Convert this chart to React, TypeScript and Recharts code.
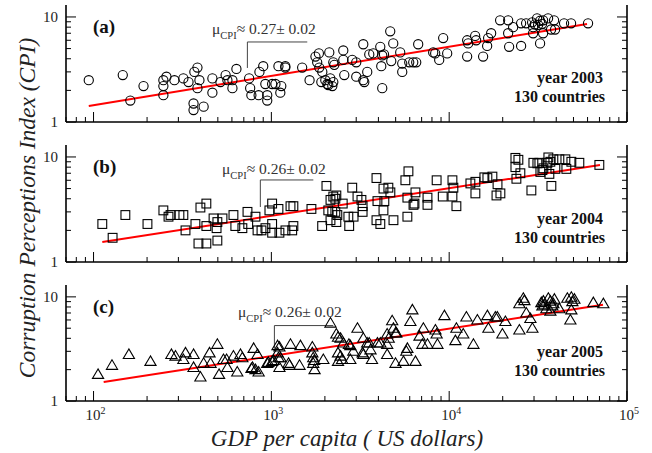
import { ScatterChart, Scatter, XAxis, YAxis, ReferenceLine } from "recharts";

const SERIF = "'Liberation Serif', 'Times New Roman', serif";

// axis ticks (log-log)
const xTicks = [
  70, 80, 90, 100, 200, 300, 400, 500, 600, 700, 800, 900, 1000, 2000, 3000, 4000, 5000, 6000,
  7000, 8000, 9000, 10000, 20000, 30000, 40000, 50000, 60000, 70000, 80000, 90000, 100000,
];
const xMajorTicks = [100, 1000, 10000, 100000];
const xMajorExponents = ["2", "3", "4", "5"];
const yTicks = [1, 2, 3, 4, 5, 6, 7, 8, 9, 10];
const yMajorTicks = [1, 10];
const yMajorLabels = ["1", "10"];

// (a) 2003
const gdp2003 = [
  94, 146, 161, 191, 247, 257, 247, 247, 285, 320, 342, 369, 384, 394, 384, 365, 365, 416, 466, 466,
  517, 553, 566, 604, 604, 636, 750, 760, 772, 848, 857, 900, 925, 948, 948, 1010, 1054, 1096, 1123,
  1137, 1198, 1198, 1490, 1640, 1770, 1810, 1850, 1860, 1910, 1934, 2011, 2064, 2090, 2145, 2202,
  2230, 2117, 2230, 2260, 2538, 2538, 2571, 2851, 3002, 3002, 3288, 3288, 3331, 3461, 3553, 3741,
  4097, 4203, 4300, 4150, 4203, 4661, 4723, 4847, 5305, 5445, 5445, 5962, 6279, 6526, 6695, 8131,
  8343, 8788, 9253, 9745, 12620, 12790, 12620, 14000, 14180, 15520, 16350, 16560, 17220, 19340,
  21460, 21460, 21730, 22890, 25380, 25380, 27080, 29270, 29650, 30420, 29650, 31210, 31620, 32450,
  33300, 33740, 32450, 33740, 35990, 37410, 39400, 38900, 44270, 48470, 60390,
];
const cpi2003 = [
  2.5, 2.8, 1.6, 2.2, 2.5, 2.7, 2.2, 1.8, 2.5, 2.6, 2.4, 3.0, 3.3, 2.5, 2.1, 1.5, 1.3, 1.4, 2.6, 1.9,
  2.4, 2.8, 2.5, 2.5, 2.1, 3.2, 2.6, 2.1, 1.8, 1.8, 3.0, 3.4, 2.3, 1.8, 1.6, 2.3, 2.3, 3.4, 1.9,
  2.2, 3.4, 3.3, 3.3, 2.5, 4.2, 3.7, 4.5, 3.3, 2.4, 3.0, 2.5, 2.3, 2.25, 2.6, 2.2,
  2.4, 4.6, 3.7, 3.5, 4.8, 3.9, 2.8, 3.9, 3.7, 2.7, 5.5, 2.5, 2.4, 3.0, 4.4, 4.5,
  5.2, 4.3, 4.4, 3.4, 2.1, 7.3, 3.8, 5.6, 4.6, 3.6, 3.0, 3.7, 3.7, 3.7, 5.5, 4.6,
  4.5, 3.9, 6.3, 4.5, 6.0, 5.6, 4.2, 6.6, 6.0, 4.2, 5.3, 6.3, 7.0, 9.3,
  9.3, 7.0, 5.2, 8.0, 8.7, 5.3, 8.7, 8.9, 8.0, 8.5, 7.0, 9.7, 8.4, 9.2,
  8.6, 9.3, 5.6, 7.0, 9.7, 7.6, 7.6, 9.3, 8.7, 8.7, 8.7,
];
const fit2003 = [
  { x: 94, y: 1.42 },
  { x: 59600, y: 8.58 },
];
const bracket2003 = [733, 1592, 3.27, 5.78];

// (b) 2004
const gdp2004 = [
  112, 128, 151, 201, 247, 264, 271, 304, 320, 329, 374, 399, 431, 389, 431, 431, 473, 492, 497, 497,
  531, 612, 627, 687, 734, 741, 814, 836, 880, 926, 975, 1010, 1010, 1010, 1110, 1096, 1200, 1310,
  1281, 1330, 1330, 1680, 1930, 2040, 2150, 2230, 2320, 2290, 2090, 2200, 2290, 2350, 2320, 2150,
  2520, 2710, 2900, 2740, 2850, 3050, 3260, 3260, 3210, 3900, 3950, 4270, 4550, 4670, 4320, 4270,
  3900, 4100, 4860, 5670, 5900, 5820, 5820, 6460, 6380, 6300, 7550, 7550, 8500, 9200, 10430, 10560,
  10430, 10980, 13160, 14040, 14040, 15770, 16400, 17500, 18700, 18450, 19410, 23570, 24500, 23570,
  25140, 23880, 28990, 29750, 31330, 32150, 32570, 33430, 33870, 35660, 36120, 37070, 36600, 37560,
  38530, 39550, 41650, 45020, 45600, 48650, 53960, 69900,
];
const cpi2004 = [
  2.3, 1.7, 2.8, 2.3, 3.1, 2.7, 2.8, 2.8, 2.8, 2.0, 2.3, 3.3, 3.6, 1.5, 1.5, 2.2, 2.6, 2.1, 1.6, 2.4,
  2.6, 2.8, 2.2, 2.1, 3.0, 2.3, 2.7, 2.0, 2.0, 2.1, 3.1, 3.6, 2.3, 1.9, 1.9, 3.2, 2.0, 2.0,
  3.4, 3.4, 2.2, 3.2, 2.2, 5.3, 3.9, 4.2, 4.3, 4.0, 3.1, 3.0, 3.0, 2.8, 2.4, 2.5,
  3.6, 2.7, 2.7, 2.2, 5.1, 4.2, 3.4, 3.0, 3.9, 6.3, 3.8, 5.0, 5.1, 4.6, 3.8, 3.1,
  2.5, 2.3, 2.5, 6.0, 7.3, 4.1, 2.7, 4.6, 3.6, 3.5, 4.1, 3.5, 6.0, 4.2, 6.0, 5.1,
  4.2, 3.4, 5.6, 5.8, 4.5, 6.4, 6.3, 6.5, 5.5, 4.3, 4.5, 9.8, 9.4, 8.0,
  7.0, 6.2, 4.8, 8.8, 8.7, 8.8, 7.2, 7.5, 7.8, 8.8, 9.9, 9.0, 6.9, 5.3,
  9.5, 7.7, 9.5, 9.5, 7.7, 9.0, 8.8, 8.4,
];
const fit2004 = [
  { x: 112, y: 1.55 },
  { x: 70500, y: 8.4 },
];
const bracket2004 = [867, 1722, 3.34, 6.04];

// (c) 2005
const gdp2005 = [
  106, 127, 158, 209, 274, 289, 329, 320, 365, 365, 399, 416, 449, 455, 497, 508, 538, 566, 560, 612,
  643, 670, 687, 773, 783, 795, 814, 836, 848, 948, 962, 1010, 1030, 1083, 1083, 1096, 1125, 1110,
  1110, 1250, 1281, 1265, 1457, 1440, 1700, 1700, 1720, 1720, 1740, 1750, 1960, 2150, 2320, 2370,
  2450, 2540, 2780, 2370, 2450, 2370, 2500, 2730, 3050, 2890, 2780, 3260, 3290, 3290, 3550, 3610,
  3680, 3460, 3950, 4100, 4480, 4570, 4480, 4780, 4860, 4990, 5050, 4480, 4990, 5530, 5740, 5820,
  6050, 6210, 6460, 6810, 7070, 7550, 8590, 7160, 8370, 8500, 9400, 10980, 10840, 12000, 12500,
  13690, 14410, 16400, 16620, 18190, 18660, 19930, 20710, 24820, 24820, 26130, 26480, 27160, 28620,
  29370, 32990, 33430, 33870, 34310, 35200, 36120, 37070, 38030, 38530, 39030, 37070, 41650, 46200,
  48650, 49290, 50590, 48650, 48030, 64690, 73600,
];
const cpi2005 = [
  1.8, 2.2, 2.8, 2.4, 2.8, 2.7, 2.9, 2.5, 2.8, 2.1, 1.7, 2.3, 2.9, 2.3, 3.5, 1.8, 2.5, 2.1, 2.5, 2.7,
  1.9, 2.8, 2.6, 2.05, 2.1, 3.2, 2.0, 2.8, 1.9, 2.3, 2.35, 2.4, 2.45, 2.9, 3.4, 2.6, 2.6, 2.1,
  3.3, 2.3, 3.5, 2.2, 3.4, 2.2, 3.3, 2.9, 2.6, 2.3, 2.45, 2.0, 2.5, 5.6, 4.4, 4.1,
  4.0, 3.6, 3.4, 2.9, 2.7, 2.4, 2.5, 3.5, 5.0, 3.0, 2.5, 2.9, 2.8, 4.0, 3.6, 3.1,
  2.5, 3.6, 3.6, 3.6, 4.4, 4.0, 3.5, 5.9, 5.0, 4.5, 4.5, 2.8, 2.3, 2.4, 3.0, 3.2,
  5.8, 7.5, 2.4, 4.2, 3.5, 3.5, 3.5, 5.0, 4.8, 4.4, 6.6, 5.0, 3.8, 4.4, 6.4,
  3.5, 6.0, 6.6, 5.0, 6.4, 6.4, 4.4, 5.8, 4.8, 8.6, 9.7, 9.2, 7.0, 6.2,
  5.0, 8.8, 8.2, 9.1, 8.4, 7.7, 9.7, 9.1, 8.2, 8.6, 9.5, 7.3, 7.7, 9.7,
  9.9, 9.0, 9.5, 7.5, 6.0, 8.8, 8.6,
];
const fit2005 = [
  { x: 114, y: 1.52 },
  { x: 73300, y: 8.4 },
];
const bracket2005 = [1040, 2229, 3.2, 5.3];

const toPoints = (xs: number[], ys: number[]) => xs.map((x, i) => ({ x, y: ys[i] }));

const Circle = (p: any) => (
  <circle cx={p.cx} cy={p.cy} r={4.6} fill="none" stroke="#000" strokeWidth={1.1} />
);
const Square = (p: any) => (
  <rect x={p.cx - 4.4} y={p.cy - 4.4} width={8.8} height={8.8} fill="none" stroke="#000" strokeWidth={1.1} />
);
const Triangle = (p: any) => (
  <polygon
    points={`${p.cx},${p.cy - 5.5} ${p.cx - 5.6},${p.cy + 4} ${p.cx + 5.6},${p.cy + 4}`}
    fill="none"
    stroke="#000"
    strokeWidth={1.1}
  />
);

const tickLen = (v: number, majors: number[]) => (majors.includes(v) ? 10 : 5);

const makeBottomTick = (showLabel: boolean) => (p: any) => {
  const v = p.payload.value;
  const mi = xMajorTicks.indexOf(v);
  return (
    <g>
      <line x1={p.x} x2={p.x} y1={p.y} y2={p.y - tickLen(v, xMajorTicks)} stroke="#000" strokeWidth={1} />
      {showLabel && mi >= 0 && (
        <text x={p.x + 2} y={p.y + 19} textAnchor="middle" fontFamily={SERIF} fontSize={15} fill="#222">
          10
          <tspan dy={-6} fontSize={10}>
            {xMajorExponents[mi]}
          </tspan>
        </text>
      )}
    </g>
  );
};

const TopTick = (p: any) => {
  const v = p.payload.value;
  return <line x1={p.x} x2={p.x} y1={p.y} y2={p.y + tickLen(v, xMajorTicks)} stroke="#000" strokeWidth={1} />;
};

const LeftTick = (p: any) => {
  const v = p.payload.value;
  const mi = yMajorTicks.indexOf(v);
  return (
    <g>
      <line x1={p.x} x2={p.x + tickLen(v, yMajorTicks)} y1={p.y} y2={p.y} stroke="#000" strokeWidth={1} />
      {mi >= 0 && (
        <text x={p.x - 8} y={p.y + 5} textAnchor="end" fontFamily={SERIF} fontSize={15} fill="#222">
          {yMajorLabels[mi]}
        </text>
      )}
    </g>
  );
};

const RightTick = (p: any) => {
  const v = p.payload.value;
  return <line x1={p.x} x2={p.x - tickLen(v, yMajorTicks)} y1={p.y} y2={p.y} stroke="#000" strokeWidth={1} />;
};

const axisLine = { stroke: "#000", strokeWidth: 1.6 };

type PanelProps = {
  top: number;
  height: number;
  xAxisHeight: number;
  data: { x: number; y: number }[];
  fit: { x: number; y: number }[];
  bracket: number[];
  shape: any;
  showXLabels: boolean;
};

const Panel = ({ top, height, xAxisHeight, data, fit, bracket, shape, showXLabels }: PanelProps) => {
  const [bx1, bx2, by1, by2] = bracket;
  return (
    <div style={{ position: "absolute", left: 0, top }}>
      <ScatterChart width={652} height={height} margin={{ top: 5, right: 0, bottom: 0, left: 0 }}>
        <XAxis
          xAxisId="b"
          dataKey="x"
          type="number"
          scale="log"
          domain={[70, 100000]}
          allowDataOverflow
          ticks={xTicks}
          interval={0}
          tickSize={0}
          tickMargin={0}
          tickLine={false}
          height={xAxisHeight}
          axisLine={axisLine}
          tick={makeBottomTick(showXLabels)}
        />
        <XAxis
          xAxisId="t"
          orientation="top"
          type="number"
          scale="log"
          domain={[70, 100000]}
          allowDataOverflow
          ticks={xTicks}
          interval={0}
          tickSize={0}
          tickMargin={0}
          tickLine={false}
          height={0}
          axisLine={axisLine}
          tick={TopTick}
        />
        <YAxis
          yAxisId="l"
          dataKey="y"
          type="number"
          scale="log"
          domain={[1, 13]}
          allowDataOverflow
          ticks={yTicks}
          interval={0}
          tickSize={0}
          tickMargin={0}
          tickLine={false}
          width={66}
          axisLine={axisLine}
          tick={LeftTick}
        />
        <YAxis
          yAxisId="r"
          orientation="right"
          type="number"
          scale="log"
          domain={[1, 13]}
          allowDataOverflow
          ticks={yTicks}
          interval={0}
          tickSize={0}
          tickMargin={0}
          tickLine={false}
          width={25}
          axisLine={axisLine}
          tick={RightTick}
        />
        <ReferenceLine
          xAxisId="b"
          yAxisId="l"
          segment={[
            { x: bx1, y: by1 },
            { x: bx1, y: by2 },
          ]}
          stroke="#444"
          strokeWidth={1}
        />
        <ReferenceLine
          xAxisId="b"
          yAxisId="l"
          segment={[
            { x: bx1, y: by2 },
            { x: bx2, y: by2 },
          ]}
          stroke="#444"
          strokeWidth={1}
        />
        <ReferenceLine xAxisId="b" yAxisId="l" segment={fit} stroke="#ff0000" strokeWidth={2} />
        <Scatter xAxisId="b" yAxisId="l" data={data} shape={shape} isAnimationActive={false} />
      </ScatterChart>
    </div>
  );
};

const Mu = ({ x, y, value }: { x: number; y: number; value: string }) => (
  <text x={x} y={y} fontFamily={SERIF} fontSize={15.5} fill="#333">
    μ
    <tspan dy={5} fontSize={10.5}>
      CPI
    </tspan>
    <tspan dy={-5}>{`≈ ${value}± 0.02`}</tspan>
  </text>
);

const YearText = ({ y, year }: { y: number; year: string }) => (
  <text x={605} y={y} textAnchor="end" fontFamily={SERIF} fontSize={16} fontWeight="bold" fill="#111">
    <tspan x={603}>{`year ${year}`}</tspan>
    <tspan x={605} dy={19}>
      130 countries
    </tspan>
  </text>
);

export default function App() {
  return (
    <div style={{ position: "absolute", left: 0, top: 0, width: 652, height: 453, background: "#fff" }}>
      <Panel
        top={0}
        height={140}
        xAxisHeight={18}
        data={toPoints(gdp2003, cpi2003)}
        fit={fit2003}
        bracket={bracket2003}
        shape={Circle}
        showXLabels={false}
      />
      <Panel
        top={140}
        height={140}
        xAxisHeight={18}
        data={toPoints(gdp2004, cpi2004)}
        fit={fit2004}
        bracket={bracket2004}
        shape={Square}
        showXLabels={false}
      />
      <Panel
        top={280}
        height={173}
        xAxisHeight={52}
        data={toPoints(gdp2005, cpi2005)}
        fit={fit2005}
        bracket={bracket2005}
        shape={Triangle}
        showXLabels={true}
      />
      <svg
        width={652}
        height={453}
        style={{ position: "absolute", left: 0, top: 0, pointerEvents: "none" }}
      >
        <text x={93} y={33} fontFamily={SERIF} fontSize={19} fontWeight="bold" fill="#111">
          (a)
        </text>
        <text x={93} y={173} fontFamily={SERIF} fontSize={19} fontWeight="bold" fill="#111">
          (b)
        </text>
        <text x={93} y={313} fontFamily={SERIF} fontSize={19} fontWeight="bold" fill="#111">
          (c)
        </text>
        <Mu x={212} y={34} value="0.27" />
        <Mu x={222} y={174} value="0.26" />
        <Mu x={238} y={317} value="0.26" />
        <YearText y={83} year="2003" />
        <YearText y={224} year="2004" />
        <YearText y={357} year="2005" />
        <text
          x={347}
          y={446}
          textAnchor="middle"
          fontFamily={SERIF}
          fontSize={23}
          fontStyle="italic"
          fill="#222"
        >
          GDP per capita ( US dollars)
        </text>
        <text
          transform="translate(35,208) rotate(-90)"
          textAnchor="middle"
          fontFamily={SERIF}
          fontSize={23.5}
          fontStyle="italic"
          fill="#222"
        >
          Corruption Perceptions Index (CPI)
        </text>
      </svg>
    </div>
  );
}
